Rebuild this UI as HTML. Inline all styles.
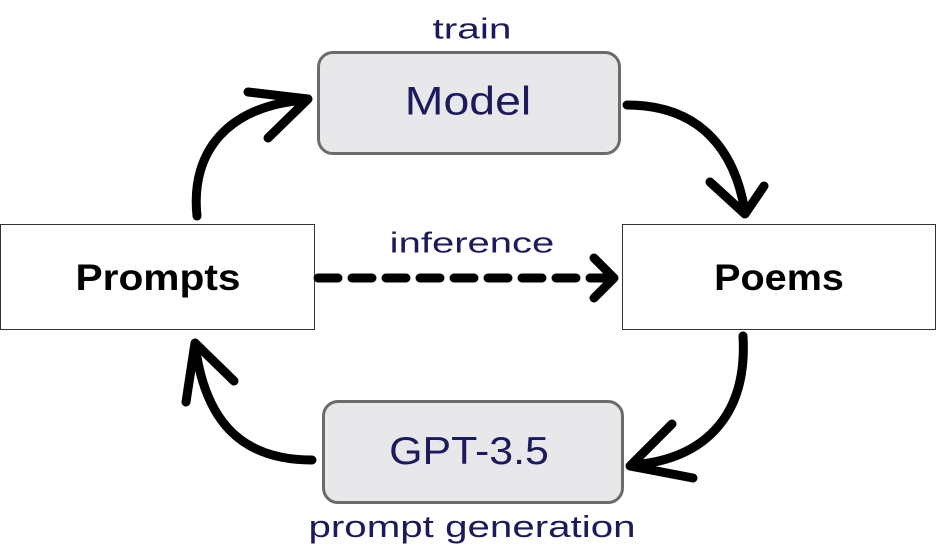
<!DOCTYPE html>
<html><head><style>
body{margin:0;width:937px;height:558px;background:#fff;overflow:hidden;position:relative;font-family:"Liberation Sans",sans-serif}
.t{position:absolute;color:#1c1a5c;text-align:center;white-space:nowrap}
.box{position:absolute;box-sizing:border-box}
</style></head><body>
<div class="box" style="left:317px;top:51px;width:304px;height:104px;background:#e8e8ea;border:3px solid #6b6b6b;border-radius:16px"></div>
<div class="box" style="left:322px;top:400px;width:302px;height:104px;background:#e8e8ea;border:3px solid #6b6b6b;border-radius:16px"></div>
<div class="box" style="left:0;top:224px;width:315px;height:106px;border:1px solid #333"></div>
<div class="box" style="left:622px;top:224px;width:314px;height:106px;border:1px solid #333"></div>
<svg width="937" height="558" style="position:absolute;left:0;top:0" fill="none" stroke="#000" stroke-width="9" stroke-linecap="round" stroke-linejoin="round">
<path d="M197 216 C190 150 230 105 306 100 M248 92 L308 99 L268 138"/>
<path d="M627 105 C700 105 735 150 745 212 M710 182 L745 214 L764 186"/>
<path d="M743 336 C748 420 700 460 632 465 M672 424 L630 466 L693 478"/>
<path d="M312 460 C240 460 205 420 195 345 M186 402 L195 343 L234 381"/>
<path d="M318 278 L612 278" stroke-dasharray="20 14"/>
<path d="M594 258 L614 278 L594 298"/>
</svg>
<div class="t" style="left:472px;top:30px;font-size:29px;transform:translate(-50%,-50%) scaleX(1.4)">train</div>
<div class="t" style="left:468px;top:102px;font-size:40px;transform:translate(-50%,-50%) scaleX(1.16)">Model</div>
<div class="t" style="left:472px;top:244px;font-size:29px;transform:translate(-50%,-50%) scaleX(1.38)">inference</div>
<div class="t" style="left:158px;top:278px;font-size:37px;font-weight:bold;color:#000;transform:translate(-50%,-50%) scaleX(1.1)">Prompts</div>
<div class="t" style="left:779px;top:278px;font-size:37px;font-weight:bold;color:#000;transform:translate(-50%,-50%) scaleX(1.07)">Poems</div>
<div class="t" style="left:469px;top:452px;font-size:39px;transform:translate(-50%,-50%) scaleX(1.1)">GPT-3.5</div>
<div class="t" style="left:472px;top:527px;font-size:31px;transform:translate(-50%,-50%) scaleX(1.3)">prompt generation</div>
</body></html>
